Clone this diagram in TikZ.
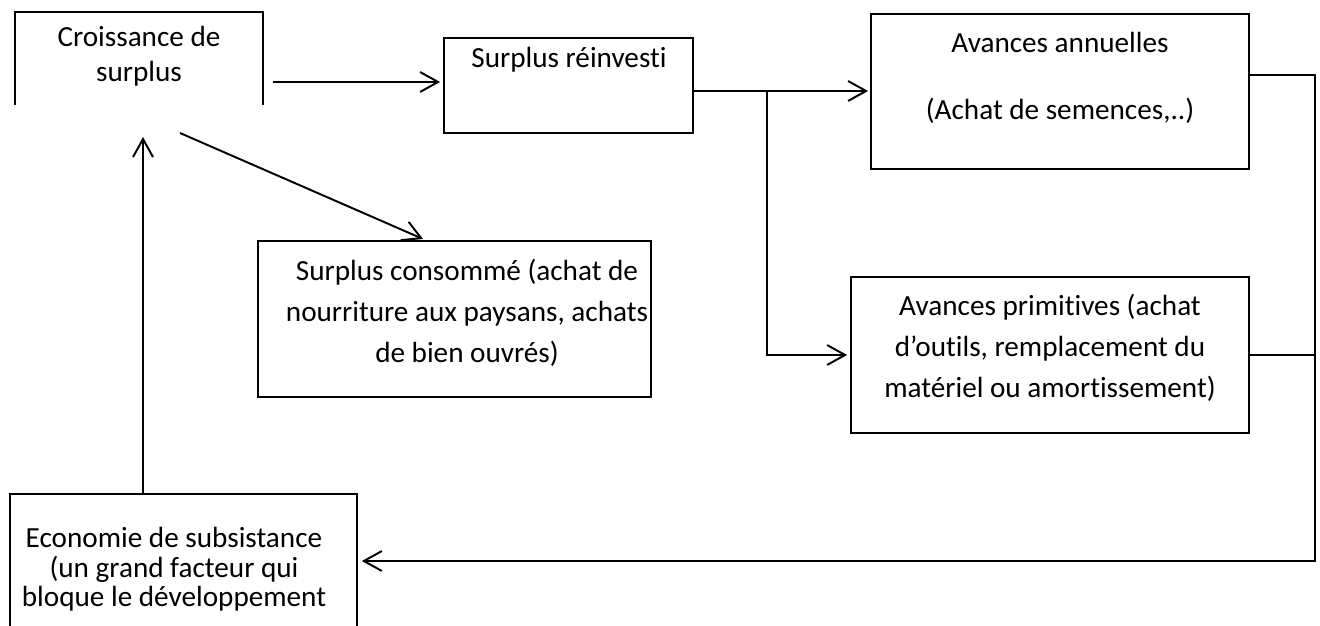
\documentclass[tikz,border=0pt]{standalone}
\usepackage{fontspec}
\setmainfont[Ligatures={NoCommon}]{Carlito}
\usetikzlibrary{arrows.meta,fit,positioning}

\begin{document}
\begin{tikzpicture}[x=0.411pt,y=-0.411pt,line width=0.8pt,
                box/.style={draw=black,inner sep=0pt,outer sep=0pt},
                txt/.style={inner sep=0pt,align=center,anchor=base,font=\fontsize{12}{16.9}\selectfont},
                arr/.style={-{Straight Barb[length=7.4pt,width=8.2pt]}}]
                \useasboundingbox (0,0) rectangle (1320,626);
                \clip (0,0) rectangle (1320,626);
                \node [inner sep=0pt,outer sep=0pt,fit={(15,12) (263,105)}] (croiss) {};
                \draw (croiss.south west) -- (croiss.north west) -- (croiss.north east) -- (croiss.south east);
                \node [txt,font=\fontsize{12}{14.4}\selectfont] (tcroiss) at (139,82) {Croissance de\\surplus};
                \node [box,fit={(444,38) (693,133)}] (reinv) {};
                \node [txt] (treinv) at (569,68) {Surplus réinvesti};
                \node [box,fit={(871,14) (1249,169)}] (annuel) {};
                \node [txt,font=\fontsize{12}{14.4}\selectfont] (tannuel) at (1060,120) {Avances annuelles\\[13.5pt](Achat de semences,..)};
                \node [box,fit={(851,277) (1249,433)}] (primit) {};
                \node [txt] (tprimit) at (1050,398) {Avances primitives (achat\\d’outils, remplacement du\\matériel ou amortissement)};
                \node [box,fit={(258,241) (651,397)}] (consom) {};
                \node [txt] (tconsom) at (467,363) {Surplus consommé (achat de\\nourriture aux paysans, achats\\de bien ouvrés)};
                \node [box,fit={(10,494) (357,680)}] (econ) {};
                \node [txt,font=\fontsize{12}{12.3}\selectfont] (tecon) at (174,607) {Economie de subsistance\\(un grand facteur qui\\bloque le développement};
                \coordinate (a1) at (273,82);
                \draw [arr,shorten >=1.6pt] (a1) -- (a1 -| reinv.west);
                \coordinate (j1) at (767,91);
                \draw (reinv.east |- j1) -- (j1);
                \draw [arr,shorten >=1.2pt] (j1) -- (j1 -| annuel.west);
                \draw [arr,shorten >=1.6pt] (j1) |- (primit.west);
                \coordinate (c1) at (180,133);
                \coordinate (c2) at (423,239);
                \draw [arr] (c1) -- (c2);
                \coordinate (e1) at (143,137);
                \draw [arr] (e1 |- econ.north) -- (e1);
                \coordinate (b1) at (1315,75);
                \coordinate (b2) at (1315,561);
                \draw (primit.east) -- (primit.east -| b1);
                \draw [arr,shorten >=2pt] (annuel.east |- b1) -- (b1) -- (b2) -- (b2 -| econ.east);
\end{tikzpicture}
\end{document}
